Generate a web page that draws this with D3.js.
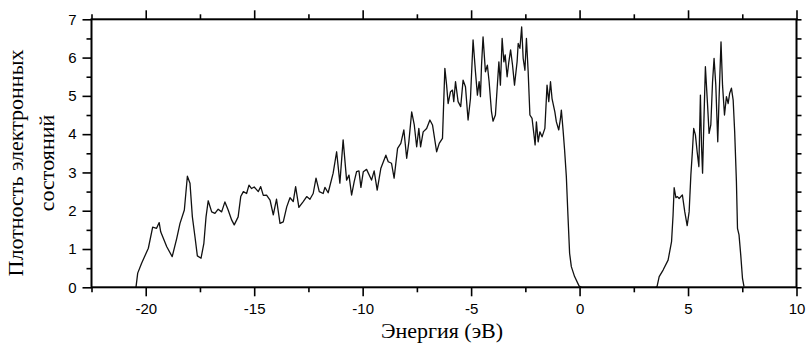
<!DOCTYPE html>
<html>
<head>
<meta charset="utf-8">
<script src="https://cdn.jsdelivr.net/npm/d3@7"></script>
<style>
  html, body { margin: 0; padding: 0; background: #fff; }
  svg { display: block; }
</style>
</head>
<body>
<svg id="chart" width="807" height="348"></svg>
<script>
// ---- data ----
const energy = [
  -20.45, -20.37, -20.19, -19.88, -19.68, -19.5, -19.38, -19.31, -19.03, -18.78,
  -18.57, -18.42, -18.22, -18.08, -17.96, -17.85, -17.73, -17.62, -17.45, -17.32,
  -17.22, -17.12, -16.96, -16.81, -16.66, -16.5, -16.35, -16.2, -16.04, -15.92,
  -15.74, -15.62, -15.5, -15.35, -15.24, -15.12, -15.0, -14.81, -14.7, -14.58,
  -14.43, -14.27, -14.12, -13.97, -13.81, -13.66, -13.5, -13.35, -13.2, -13.09,
  -12.94, -12.74, -12.58, -12.43, -12.28, -12.15, -12.0, -11.82, -11.74, -11.59,
  -11.36, -11.2, -11.05, -10.9, -10.74, -10.63, -10.51, -10.39, -10.28, -10.17,
  -10.08, -9.97, -9.82, -9.59, -9.47, -9.33, -9.16, -8.93, -8.82, -8.67,
  -8.55, -8.39, -8.24, -8.1, -7.97, -7.87, -7.74, -7.62, -7.51, -7.41,
  -7.33, -7.21, -7.05, -6.9, -6.78, -6.59, -6.47, -6.32, -6.21, -6.13,
  -6.06, -5.95, -5.86, -5.8, -5.72, -5.6, -5.48, -5.37, -5.26, -5.14,
  -5.03, -4.91, -4.8, -4.71, -4.63, -4.57, -4.52, -4.45, -4.34, -4.25,
  -4.17, -4.06, -3.99, -3.88, -3.78, -3.72, -3.65, -3.57, -3.49, -3.43,
  -3.34, -3.26, -3.18, -3.09, -3.0, -2.88, -2.83, -2.75, -2.67, -2.6,
  -2.52, -2.45, -2.37, -2.29, -2.19, -2.11, -2.05, -1.99, -1.91, -1.83,
  -1.73, -1.6, -1.5, -1.42, -1.34, -1.27, -1.14, -1.07, -0.96, -0.88,
  -0.84, -0.76, -0.69, -0.61, -0.54, -0.46, -0.38, -0.23, -0.02, 0.1,
  3.5, 3.57, 3.67, 3.85, 4.08, 4.24, 4.31, 4.36, 4.44, 4.51,
  4.59, 4.67, 4.74, 4.85, 4.96, 5.05, 5.13, 5.2, 5.26, 5.34,
  5.42, 5.5, 5.57, 5.62, 5.67, 5.73, 5.8, 5.9, 5.97, 6.05,
  6.13, 6.2, 6.28, 6.37, 6.43, 6.52, 6.59, 6.68, 6.77, 6.85,
  6.92, 7.0, 7.08, 7.15, 7.23, 7.28, 7.35, 7.43, 7.51, 7.58
];
const density = [
  0.0, 0.37, 0.63, 1.02, 1.57, 1.54, 1.69, 1.45, 1.06, 0.8,
  1.28, 1.67, 2.02, 2.9, 2.72, 1.84, 1.32, 0.82, 0.76, 1.15,
  1.84, 2.26, 1.97, 1.93, 2.04, 1.97, 2.23, 2.02, 1.76, 1.63,
  1.84, 2.37, 2.5, 2.45, 2.67, 2.58, 2.62, 2.5, 2.63, 2.4,
  2.41, 2.28, 1.89, 2.3, 1.67, 1.71, 2.1, 2.34, 2.24, 2.63,
  2.09, 2.24, 2.37, 2.3, 2.45, 2.85, 2.5, 2.45, 2.61, 2.47,
  2.98, 3.54, 2.72, 3.85, 2.8, 2.93, 2.41, 2.76, 3.02, 3.04,
  2.61, 3.02, 3.08, 2.8, 3.04, 2.54, 3.11, 3.45, 3.28, 3.24,
  2.85, 3.63, 3.76, 4.11, 3.37, 3.8, 4.58, 4.24, 3.67, 4.15,
  3.67, 4.06, 4.15, 4.37, 4.24, 3.54, 3.76, 3.89, 5.72, 5.28,
  4.8, 5.11, 5.15, 4.85, 5.37, 4.85, 4.72, 5.41, 5.24, 4.37,
  4.93, 6.46, 5.63, 5.02, 5.37, 4.98, 5.8, 6.54, 5.63, 5.8,
  5.37, 4.58, 4.34, 4.5, 5.37, 5.89, 5.28, 6.5, 5.89, 6.07,
  5.5, 5.89, 6.2, 5.8, 5.28, 5.89, 6.37, 6.24, 6.8, 5.98,
  5.67, 6.5, 5.63, 4.5, 4.41, 4.02, 3.72, 4.32, 3.8, 4.06,
  3.93, 4.15, 5.28, 4.85, 5.37, 4.93, 4.58, 4.32, 4.11, 4.41,
  4.63, 4.1, 3.58, 2.89, 1.93, 0.89, 0.54, 0.28, 0.03, 0.0,
  0.0, 0.02, 0.28, 0.45, 0.71, 1.19, 1.89, 2.6, 2.34, 2.37,
  2.32, 2.37, 2.41, 1.97, 1.61, 1.97, 2.93, 3.54, 4.15, 3.98,
  3.54, 3.15, 5.02, 3.72, 2.98, 4.32, 5.76, 4.76, 4.02, 4.24,
  5.37, 5.98, 5.28, 3.8, 4.93, 6.41, 5.28, 4.5, 4.98, 4.8,
  5.07, 5.2, 4.89, 4.06, 2.76, 1.54, 1.37, 0.84, 0.23, 0.02
];
const xMajorTicks = [-20, -15, -10, -5, 0, 5, 10];
const xMinorTicks = [-22.5, -17.5, -12.5, -7.5, -2.5, 2.5, 7.5];
const yMajorTicks = [0, 1, 2, 3, 4, 5, 6, 7];
const yMinorTicks = [0.5, 1.5, 2.5, 3.5, 4.5, 5.5, 6.5];
const xTitle = "Энергия (эВ)";
const yTitleLines = ["Плотность электронных", "состояний"];

// ---- layout ----
const svg = d3.select("#chart");
const plotL = 91.5, plotR = 796.5, plotT = 19.3, plotB = 287.3;
const x = d3.scaleLinear().domain([-22.5, 10]).range([plotL, plotR]);
const y = d3.scaleLinear().domain([0, 7]).range([plotB, plotT]);

const tickFont = "'Liberation Sans', Arial, sans-serif";
const titleFont = "'Liberation Serif', 'Times New Roman', serif";
const plainNum = d => String(d);   // hyphen-minus, as in the reference

// curve
const pts = energy.map((e, i) => [e, density[i]]);
svg.append("path")
  .datum(pts)
  .attr("fill", "none")
  .attr("stroke", "#111")
  .attr("stroke-width", 1.3)
  .attr("stroke-linejoin", "round")
  .attr("d", d3.line().x(d => x(d[0])).y(d => y(d[1])));

function styleAxis(g) {
  g.select(".domain").remove();
  g.selectAll(".tick line").attr("stroke", "#000").attr("stroke-width", 1.6);
  g.selectAll("text").attr("fill", "#000").style("font-family", tickFont).style("font-size", "15px");
}

// bottom axis (major + minor)
svg.append("g").attr("transform", `translate(0,${plotB})`)
  .call(d3.axisBottom(x).tickValues(xMajorTicks).tickSize(9).tickPadding(7).tickFormat(plainNum))
  .call(styleAxis);
svg.append("g").attr("transform", `translate(0,${plotB})`)
  .call(d3.axisBottom(x).tickValues(xMinorTicks).tickSize(5).tickFormat(""))
  .call(styleAxis);
// top axis
svg.append("g").attr("transform", `translate(0,${plotT})`)
  .call(d3.axisTop(x).tickValues(xMajorTicks).tickSize(9).tickFormat(""))
  .call(styleAxis);
svg.append("g").attr("transform", `translate(0,${plotT})`)
  .call(d3.axisTop(x).tickValues(xMinorTicks).tickSize(5).tickFormat(""))
  .call(styleAxis);
// left axis
svg.append("g").attr("transform", `translate(${plotL},0)`)
  .call(d3.axisLeft(y).tickValues(yMajorTicks).tickSize(9).tickPadding(6).tickFormat(plainNum))
  .call(styleAxis);
svg.append("g").attr("transform", `translate(${plotL},0)`)
  .call(d3.axisLeft(y).tickValues(yMinorTicks).tickSize(5).tickFormat(""))
  .call(styleAxis);
// right axis
svg.append("g").attr("transform", `translate(${plotR},0)`)
  .call(d3.axisRight(y).tickValues(yMajorTicks.concat(yMinorTicks)).tickSize(5).tickFormat(""))
  .call(styleAxis);

// frame
svg.append("rect")
  .attr("x", plotL).attr("y", plotT)
  .attr("width", plotR - plotL).attr("height", plotB - plotT)
  .attr("fill", "none").attr("stroke", "#000").attr("stroke-width", 2);

// titles
svg.append("text")
  .attr("x", 442).attr("y", 338)
  .attr("text-anchor", "middle")
  .style("font-family", titleFont).style("font-size", "22px")
  .text(xTitle);

const yt = svg.append("text")
  .attr("transform", "translate(23,163) rotate(-90)")
  .attr("text-anchor", "middle")
  .style("font-family", titleFont).style("font-size", "22px");
yTitleLines.forEach((t, i) => {
  yt.append("tspan").attr("x", 0).attr("dy", i === 0 ? 0 : 31).text(t);
});
</script>
</body>
</html>
